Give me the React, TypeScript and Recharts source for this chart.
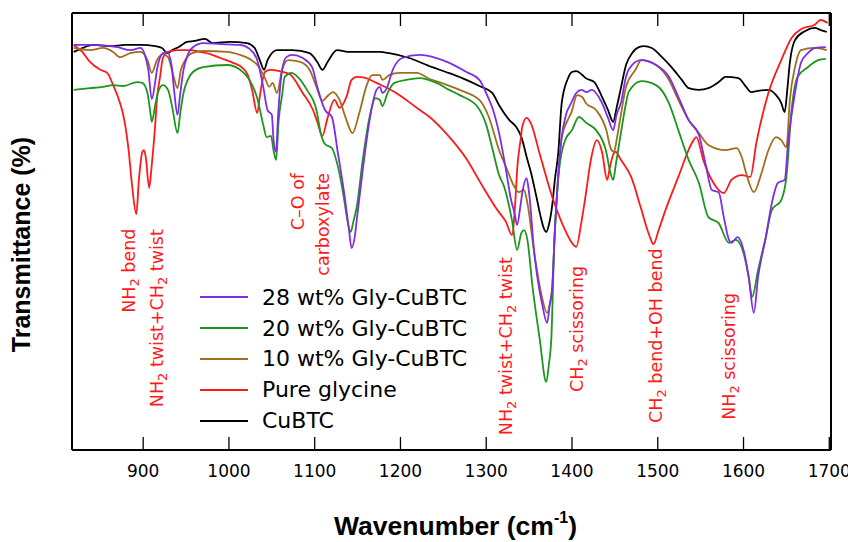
import { LineChart, Line, XAxis, YAxis, Legend, ReferenceDot } from "recharts";

type Pt = [number, number];

// [wavenumber (cm-1), transmittance (%)]
const cubtc: Pt[] = [
  [819, 91.1], [827, 91.8], [842, 92.7], [862, 92.4], [879, 92.7], [897, 92.7], [914, 92.4],
  [922, 92.0], [928, 90.8], [934, 91.5], [943, 92.4], [951, 93.4], [960, 93.6], [972, 94.1],
  [981, 93.1], [1001, 93.4], [1021, 93.1], [1030, 92.0], [1036, 89.2], [1041, 87.0], [1045, 89.2],
  [1056, 91.5], [1074, 91.5], [1094, 90.8], [1103, 88.8], [1109, 87.0], [1115, 88.8], [1126, 91.5],
  [1141, 91.1], [1176, 91.1], [1187, 90.8], [1210, 89.7], [1237, 87.6], [1253, 86.5], [1272, 85.1],
  [1292, 83.3], [1307, 81.7], [1315, 78.9], [1327, 75.5], [1335, 73.9], [1341, 71.6], [1348, 66.4],
  [1352, 63.6], [1358, 58.4], [1363, 53.8], [1367, 50.8], [1370, 49.9], [1373, 51.5], [1377, 56.1],
  [1380, 61.8], [1384, 68.0], [1388, 79.4], [1395, 84.9], [1400, 86.5], [1405, 86.7], [1411, 86.0],
  [1416, 85.1], [1426, 84.2], [1435, 80.8], [1442, 77.8], [1448, 75.1], [1452, 78.3], [1457, 82.8],
  [1463, 88.1], [1470, 90.8], [1478, 92.2], [1484, 92.4], [1493, 92.0], [1505, 89.9], [1516, 87.6],
  [1528, 84.7], [1536, 82.8], [1548, 82.4], [1559, 82.8], [1571, 84.2], [1579, 85.4], [1594, 85.1],
  [1603, 83.1], [1609, 81.9], [1617, 82.2], [1629, 82.4], [1638, 81.2], [1644, 79.4], [1648, 77.3],
  [1651, 82.4], [1654, 88.6], [1660, 93.8], [1672, 95.9], [1683, 96.6], [1690, 96.1], [1697, 95.7],
];

const glycine: Pt[] = [
  [819, 92.7], [829, 91.1], [838, 88.8], [850, 87.0], [858, 86.3], [865, 83.5], [873, 79.4],
  [878, 75.5], [883, 68.6], [887, 60.6], [892, 54.0], [895, 61.8], [899, 68.2], [901, 68.6],
  [903, 67.0], [907, 60.0], [910, 65.2], [914, 74.4], [916, 80.1], [920, 85.8], [923, 89.7],
  [929, 91.1], [940, 91.5], [955, 91.5], [966, 91.1], [978, 90.6], [990, 89.7], [1005, 88.6],
  [1016, 87.4], [1022, 85.8], [1027, 82.4], [1033, 77.1], [1036, 81.0], [1042, 86.5], [1048, 87.0],
  [1059, 86.7], [1071, 86.0], [1086, 81.7], [1098, 77.8], [1103, 75.1], [1109, 71.9], [1115, 76.0],
  [1123, 80.1], [1129, 78.3], [1137, 80.8], [1143, 84.7], [1149, 85.4], [1160, 85.1], [1172, 84.0],
  [1187, 82.6], [1202, 80.8], [1219, 78.3], [1234, 76.2], [1253, 72.5], [1277, 66.6], [1295, 60.6],
  [1313, 54.9], [1323, 52.2], [1330, 49.2], [1334, 57.2], [1336, 64.1], [1340, 70.9], [1342, 73.9],
  [1347, 76.0], [1352, 74.8], [1362, 68.0], [1377, 57.9], [1393, 49.9], [1400, 47.4], [1405, 46.5],
  [1411, 52.2], [1416, 58.4], [1422, 66.4], [1429, 70.9], [1435, 68.2], [1441, 61.8], [1444, 64.5],
  [1447, 67.0], [1451, 68.2], [1457, 66.4], [1469, 62.5], [1480, 55.6], [1490, 49.2], [1495, 47.1],
  [1501, 50.3], [1509, 54.9], [1524, 62.5], [1540, 70.3], [1545, 71.6], [1553, 66.4], [1565, 61.1],
  [1577, 58.8], [1586, 61.8], [1598, 62.9], [1608, 62.5], [1615, 70.3], [1629, 81.7], [1644, 89.2],
  [1656, 94.3], [1667, 96.3], [1683, 97.3], [1690, 98.4], [1698, 97.7],
];

const gly10: Pt[] = [
  [819, 92.0], [838, 91.5], [853, 92.0], [865, 91.1], [873, 89.9], [885, 90.8], [897, 91.1],
  [905, 89.2], [910, 86.3], [916, 89.2], [923, 90.6], [929, 89.9], [935, 85.8], [940, 82.8],
  [944, 87.0], [949, 89.2], [957, 90.8], [970, 91.3], [998, 91.1], [1013, 90.4], [1024, 89.5],
  [1034, 87.9], [1042, 85.1], [1047, 83.1], [1051, 84.0], [1056, 81.7], [1062, 87.0], [1069, 89.2],
  [1083, 88.8], [1094, 87.0], [1102, 83.1], [1109, 79.9], [1115, 81.0], [1121, 81.9], [1129, 80.1],
  [1137, 75.5], [1144, 72.5], [1152, 77.1], [1160, 83.1], [1167, 85.8], [1176, 85.8], [1179, 84.7],
  [1187, 85.8], [1199, 86.3], [1219, 86.3], [1234, 84.9], [1245, 84.2], [1269, 82.4], [1292, 80.1],
  [1303, 76.2], [1315, 68.6], [1323, 64.8], [1333, 60.2], [1338, 59.0], [1344, 59.5], [1348, 56.5],
  [1356, 45.1], [1364, 35.9], [1371, 31.4], [1374, 33.2], [1377, 37.3], [1380, 50.3], [1383, 60.2],
  [1388, 71.6], [1395, 75.5], [1399, 77.1], [1406, 81.2], [1412, 80.8], [1416, 79.4], [1428, 77.8],
  [1440, 73.2], [1445, 69.1], [1449, 68.2], [1452, 70.9], [1457, 76.7], [1463, 83.1], [1474, 87.0],
  [1481, 89.2], [1498, 88.1], [1513, 84.7], [1524, 80.1], [1536, 75.5], [1548, 72.5], [1559, 69.8],
  [1579, 68.6], [1592, 69.1], [1598, 67.0], [1603, 63.4], [1612, 59.0], [1621, 63.4], [1629, 68.6],
  [1638, 71.6], [1644, 70.9], [1650, 69.3], [1654, 80.1], [1660, 87.6], [1667, 91.5], [1683, 92.0],
  [1697, 91.5],
];

const gly20: Pt[] = [
  [819, 82.4], [838, 82.8], [853, 83.1], [865, 83.5], [877, 83.3], [893, 84.2], [899, 84.0],
  [905, 81.7], [908, 77.8], [910, 75.1], [914, 78.9], [917, 81.7], [923, 83.5], [929, 82.4],
  [934, 78.3], [940, 72.5], [943, 76.7], [947, 81.7], [952, 84.7], [958, 86.5], [970, 87.6],
  [998, 88.1], [1013, 87.0], [1024, 84.7], [1033, 80.5], [1040, 74.4], [1044, 71.6], [1049, 71.9],
  [1052, 68.6], [1055, 66.4], [1058, 75.5], [1062, 81.2], [1065, 85.4], [1073, 86.3], [1080, 85.4],
  [1091, 82.4], [1102, 77.8], [1107, 72.5], [1112, 70.0], [1120, 69.1], [1126, 65.7], [1135, 56.5],
  [1138, 52.6], [1142, 49.9], [1145, 52.2], [1149, 55.6], [1156, 66.4], [1164, 76.2], [1171, 80.5],
  [1176, 80.1], [1179, 78.7], [1185, 81.7], [1193, 84.0], [1207, 84.7], [1222, 85.1], [1242, 84.0],
  [1257, 82.4], [1269, 81.2], [1290, 78.5], [1300, 74.4], [1307, 69.1], [1315, 62.9], [1321, 60.2],
  [1330, 52.6], [1336, 45.8], [1341, 49.7], [1344, 50.3], [1348, 48.1], [1354, 37.3], [1362, 25.9],
  [1370, 15.6], [1373, 19.5], [1376, 25.9], [1379, 45.1], [1385, 64.1], [1392, 70.9], [1400, 73.2],
  [1408, 76.2], [1417, 74.8], [1428, 73.2], [1440, 68.2], [1444, 64.1], [1448, 61.8], [1451, 65.2],
  [1457, 72.5], [1463, 79.4], [1466, 81.9], [1481, 84.4], [1498, 83.5], [1513, 79.4], [1524, 73.2],
  [1536, 66.4], [1548, 61.1], [1559, 53.3], [1571, 51.9], [1583, 47.4], [1591, 48.1], [1600, 45.1],
  [1606, 39.6], [1610, 35.0], [1617, 41.2], [1626, 48.7], [1633, 54.9], [1644, 57.2], [1650, 62.5],
  [1656, 77.8], [1663, 85.4], [1675, 87.6], [1687, 89.2], [1696, 89.5],
];

const gly28: Pt[] = [
  [819, 92.7], [838, 92.7], [870, 92.2], [885, 91.5], [897, 92.0], [902, 90.4], [906, 87.0],
  [910, 80.3], [914, 84.2], [916, 87.0], [923, 90.8], [928, 91.1], [933, 88.1], [936, 82.4],
  [940, 76.7], [943, 81.2], [947, 87.0], [951, 89.9], [957, 92.0], [970, 93.1], [990, 92.9],
  [1013, 92.7], [1024, 91.8], [1033, 89.2], [1040, 83.1], [1045, 77.8], [1050, 76.7], [1052, 70.9],
  [1055, 68.2], [1057, 75.5], [1062, 87.0], [1067, 89.9], [1074, 90.4], [1086, 89.7], [1097, 87.6],
  [1103, 83.1], [1112, 77.8], [1120, 76.2], [1127, 68.0], [1135, 57.9], [1140, 50.3], [1143, 46.2],
  [1147, 49.2], [1149, 52.6], [1156, 64.1], [1164, 75.5], [1172, 82.4], [1176, 83.1], [1179, 81.7],
  [1184, 82.8], [1191, 87.0], [1202, 89.7], [1222, 90.4], [1242, 89.7], [1257, 88.6], [1277, 86.5],
  [1292, 84.7], [1301, 81.2], [1308, 77.8], [1315, 72.5], [1323, 64.1], [1329, 57.2], [1333, 54.2],
  [1336, 51.5], [1340, 56.1], [1342, 58.8], [1347, 62.2], [1350, 58.8], [1356, 45.1], [1362, 36.6],
  [1365, 33.6], [1371, 29.1], [1374, 33.2], [1377, 37.3], [1380, 50.3], [1383, 60.2], [1388, 71.6],
  [1393, 76.7], [1399, 79.4], [1405, 81.7], [1411, 82.4], [1417, 81.9], [1423, 82.4], [1435, 79.4],
  [1442, 76.0], [1448, 73.2], [1452, 76.7], [1457, 79.4], [1463, 85.4], [1466, 87.0], [1480, 89.2],
  [1498, 88.1], [1513, 85.4], [1524, 80.8], [1536, 75.5], [1548, 72.1], [1556, 65.2], [1563, 59.5],
  [1571, 59.0], [1577, 53.3], [1583, 48.1], [1586, 47.4], [1593, 48.7], [1600, 45.8], [1606, 39.6],
  [1612, 31.4], [1617, 39.6], [1626, 48.7], [1633, 56.5], [1640, 61.1], [1648, 61.8], [1652, 70.3],
  [1660, 81.7], [1667, 88.6], [1675, 90.8], [1684, 92.0], [1696, 92.2],
];

const wnTicks = [900, 1000, 1100, 1200, 1300, 1400, 1500, 1600, 1700];

const series = [
  { name: "28 wt% Gly-CuBTC", color: "#7d2de6", points: gly28 },
  { name: "20 wt% Gly-CuBTC", color: "#1e961e", points: gly20 },
  { name: "10 wt% Gly-CuBTC", color: "#a06e1e", points: gly10 },
  { name: "Pure glycine", color: "#ff1a1a", points: glycine },
  { name: "CuBTC", color: "#000000", points: cubtc },
];

// band assignments, odd parts are subscripts
const notes = [
  { lines: [["NH", "2", " bend"]], wn: 883, t: 31.4, anchor: "start" },
  { lines: [["NH", "2", " twist+CH", "2", " twist"]], wn: 916, t: 9.8, anchor: "start" },
  { lines: [["C–O of"], ["carboxylate"]], wn: 1095, t: 63.4, anchor: "end" },
  { lines: [["NH", "2", " twist+CH", "2", " twist"]], wn: 1323, t: 3.4, anchor: "start" },
  { lines: [["CH", "2", " scissoring"]], wn: 1406, t: 13.3, anchor: "start" },
  { lines: [["CH", "2", " bend+OH bend"]], wn: 1498, t: 6.2, anchor: "start" },
  { lines: [["NH", "2", " scissoring"]], wn: 1583, t: 6.9, anchor: "start" },
];

const FONT = '"DejaVu Sans", Verdana, sans-serif';
const TITLE_FONT = '"Liberation Sans", Arial, sans-serif';

const W = 848;
const H = 542;
const MARGIN = { top: 13, right: 16, bottom: 0, left: 71 };
const X_AXIS_H = 92;
const Y_AXIS_W = 1;
const WN_DOMAIN: [number, number] = [817, 1702];
const T_MAX = 100;
const TICK_LEN = 13;

const PLOT_LEFT = MARGIN.left + Y_AXIS_W;
const PLOT_W = W - MARGIN.left - MARGIN.right - 2 * Y_AXIS_W;

const toRows = (pts: Pt[]) => pts.map(([wn, t]) => ({ wn, t }));

function NoteText({ viewBox, note }: any) {
  const cx = viewBox.x;
  const cy = viewBox.y;
  const n = note.lines.length;
  return (
    <text
      transform={`rotate(-90 ${cx} ${cy})`}
      fill="#ff1a1a"
      fontSize={17.5}
      fontFamily={FONT}
      textAnchor={note.anchor}
    >
      {note.lines.map((parts: string[], li: number) => {
        const ly = cy + (li - (n - 1) / 2) * 25 + 6;
        return parts.map((p, pi) => {
          const sub = pi % 2 === 1;
          return (
            <tspan
              key={`${li}-${pi}`}
              x={pi === 0 ? cx : undefined}
              y={pi === 0 ? ly : undefined}
              dy={sub ? 4 : pi > 0 ? -4 : undefined}
              fontSize={sub ? 13 : undefined}
            >
              {p}
            </tspan>
          );
        });
      })}
    </text>
  );
}

// inward tick on the bottom frame with its value underneath
function BottomTick({ x, y, payload }: any) {
  return (
    <g>
      <line x1={x} x2={x} y1={y} y2={y - TICK_LEN} stroke="#000" strokeWidth={1.3} />
      <text x={x} y={y + 27} textAnchor="middle" fontSize={17} fontFamily={FONT} fill="#000">
        {payload.value}
      </text>
    </g>
  );
}

// inward ticks along the top frame
function TopTicks() {
  const [lo, hi] = WN_DOMAIN;
  return (
    <svg
      width={W}
      height={H}
      style={{ position: "absolute", left: 0, top: 0, pointerEvents: "none" }}
    >
      {wnTicks.map((w) => {
        const x = PLOT_LEFT + ((w - lo) / (hi - lo)) * PLOT_W;
        return (
          <line
            key={w}
            x1={x}
            x2={x}
            y1={MARGIN.top}
            y2={MARGIN.top + TICK_LEN}
            stroke="#000"
            strokeWidth={1.3}
          />
        );
      })}
    </svg>
  );
}

function XTitle({ viewBox }: any) {
  const cx = viewBox.x + viewBox.width / 2 + 4;
  const by = viewBox.y + 85;
  return (
    <text x={cx} y={by} textAnchor="middle" fontSize={26.5} fontWeight="bold" fontFamily={TITLE_FONT} fill="#000">
      Wavenumber (cm
      <tspan dy={-12} fontSize={16}>-1</tspan>
      <tspan dy={12}>)</tspan>
    </text>
  );
}

function YTitle({ viewBox }: any) {
  const bx = viewBox.x - 41;
  const cy = viewBox.y + viewBox.height / 2 + 13;
  return (
    <text
      x={bx}
      y={cy}
      transform={`rotate(-90 ${bx} ${cy})`}
      textAnchor="middle"
      fontSize={25}
      fontWeight="bold"
      fontFamily={TITLE_FONT}
      fill="#000"
    >
      Transmittance (%)
    </text>
  );
}

const renderLegend = () => (
  <div style={{ fontFamily: FONT, fontSize: 22, color: "#000" }}>
    {series.map((s) => (
      <div key={s.name} style={{ display: "flex", alignItems: "center", height: 30.8 }}>
        <svg width={48} height={4} style={{ marginRight: 14 }}>
          <line x1={0} x2={48} y1={2} y2={2} stroke={s.color} strokeWidth={2} />
        </svg>
        <span style={{ whiteSpace: "nowrap" }}>{s.name}</span>
      </div>
    ))}
  </div>
);

export default function App() {
  return (
    <div style={{ position: "absolute", left: 0, top: 0, width: W, height: H, background: "#fff" }}>
      <LineChart width={W} height={H} margin={MARGIN}>
        <XAxis
          dataKey="wn"
          type="number"
          domain={WN_DOMAIN}
          allowDataOverflow
          ticks={wnTicks}
          interval={0}
          height={X_AXIS_H}
          tickSize={0}
          tickMargin={0}
          tickLine={false}
          axisLine={{ stroke: "#000", strokeWidth: 2 }}
          tick={<BottomTick />}
          label={{ content: (p: any) => <XTitle viewBox={p.viewBox} /> }}
        />
        <XAxis
          xAxisId="top"
          orientation="top"
          dataKey="wn"
          type="number"
          domain={WN_DOMAIN}
          allowDataOverflow
          mirror
          height={1}
          tick={false}
          tickLine={false}
          axisLine={{ stroke: "#000", strokeWidth: 2 }}
        />
        <YAxis
          domain={[0, T_MAX]}
          allowDataOverflow
          width={Y_AXIS_W}
          tick={false}
          tickLine={false}
          axisLine={{ stroke: "#000", strokeWidth: 2 }}
          label={{ content: (p: any) => <YTitle viewBox={p.viewBox} /> }}
        />
        <YAxis
          yAxisId="right"
          orientation="right"
          domain={[0, T_MAX]}
          allowDataOverflow
          width={Y_AXIS_W}
          tick={false}
          tickLine={false}
          axisLine={{ stroke: "#000", strokeWidth: 2 }}
        />
        {[...series].reverse().map((s) => (
          <Line
            key={s.name}
            data={toRows(s.points)}
            dataKey="t"
            name={s.name}
            type="monotone"
            stroke={s.color}
            strokeWidth={1.8}
            dot={false}
            isAnimationActive={false}
          />
        ))}
        {notes.map((n, i) => (
          <ReferenceDot
            key={i}
            x={n.wn}
            y={n.t}
            r={0}
            fill="none"
            stroke="none"
            label={(p: any) => <NoteText viewBox={p.viewBox} note={n} />}
          />
        ))}
        <Legend
          layout="vertical"
          align="center"
          verticalAlign="middle"
          wrapperStyle={{ left: 200, top: 282, width: 320 }}
          content={renderLegend}
        />
      </LineChart>
      <TopTicks />
    </div>
  );
}
